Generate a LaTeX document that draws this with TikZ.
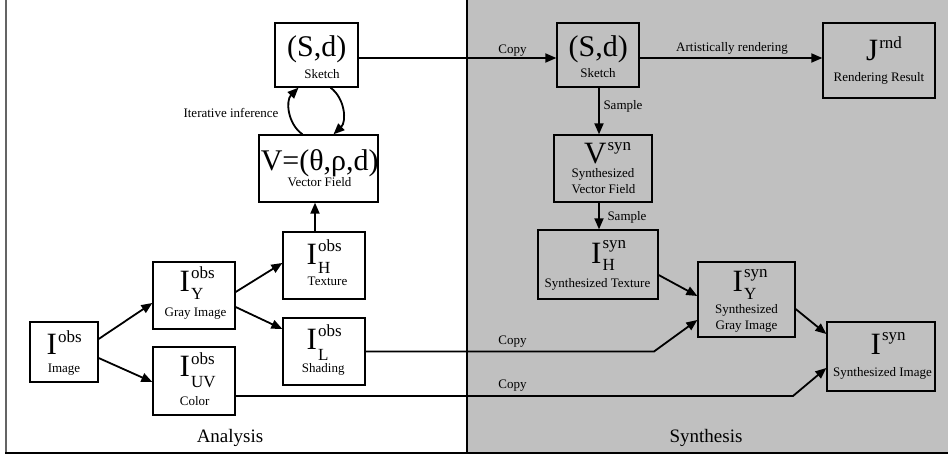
\documentclass[tikz,border=0pt]{standalone}
\usepackage{fontspec}
\setmainfont{Liberation Serif}
\usetikzlibrary{arrows.meta,calc}
\definecolor{panelgray}{RGB}{192,192,192}
\definecolor{framegray}{RGB}{100,100,100}
% base letter, superscript, subscript, raise, lower
\newcommand{\SymSS}[5]{\fontsize{31}{31}\selectfont #1\kern1pt\rlap{\raisebox{#4pt}{\fontsize{17}{17}\selectfont #2}}\raisebox{-#5pt}{\fontsize{17}{17}\selectfont #3}}
% base letter, superscript, raise
\newcommand{\SymS}[3]{\fontsize{31}{31}\selectfont #1\kern1pt\raisebox{#3pt}{\fontsize{17}{17}\selectfont #2}}
\begin{document}
\begin{tikzpicture}[x=1pt,y=-1pt,
  box/.style={draw, line width=1.3pt, inner sep=0pt},
  gbox/.style={box, fill=panelgray},
  sym/.style={anchor=base west, inner sep=0pt},
  bigtxt/.style={anchor=base, inner sep=0pt, font=\fontsize{30}{30}\selectfont},
  captxt/.style={anchor=base, inner sep=0pt, font=\fontsize{13}{15}\selectfont},
  arr/.style={line width=1.8pt, -{Triangle[length=11pt,width=9pt]}},
  lab/.style={font=\fontsize{13}{15}\selectfont, inner sep=0pt},
  title/.style={font=\fontsize{19}{21}\selectfont, inner sep=0pt}]
\useasboundingbox (0,0) rectangle (948,454);
\fill[panelgray] (467,0) rectangle (948,452);
\draw[line width=1.5pt, framegray] (6,0) -- (6,453);
\draw[line width=1.5pt] (467,0) -- (467,453);
\draw[line width=2pt] (5,453) -- (948,453);

% ---------- analysis boxes ----------
\node[box, minimum width=83pt, minimum height=64pt] (skL) at (316.5,55) {};
\node[bigtxt] (skLt) at (316.7,57) {(S,d)};
\node[captxt] (skLc) at (322,79) {Sketch};

\node[box, minimum width=119pt, minimum height=67pt] (vf) at (318.5,168.5) {};
\node[bigtxt] (vft) at (319.7,171) {V=(θ,ρ,d)};
\node[captxt] (vfc) at (319.5,187) {Vector Field};

\node[box, minimum width=82pt, minimum height=67pt] (ih) at (324,265.5) {};
\node[sym] (iht) at (306.5,265) {\SymSS{I}{obs}{H}{13}{9}};
\node[captxt] (ihc) at (327.5,286) {Texture};

\node[box, minimum width=82pt, minimum height=67pt] (iy) at (194,295.5) {};
\node[sym] (iyt) at (179.5,292) {\SymSS{I}{obs}{Y}{13}{8}};
\node[captxt] (iyc) at (195.5,317) {Gray Image};

\node[box, minimum width=82pt, minimum height=67pt] (il) at (324,351.5) {};
\node[sym] (ilt) at (306.5,349) {\SymSS{I}{obs}{L}{13}{11}};
\node[captxt] (ilc) at (323.3,373) {Shading};

\node[box, minimum width=68pt, minimum height=60pt] (io) at (64,352) {};
\node[sym] (iot) at (46.5,355) {\SymS{I}{obs}{13}};
\node[captxt] (ioc) at (64,372) {Image};

\node[box, minimum width=82pt, minimum height=68pt] (iuv) at (194,381) {};
\node[sym] (iuvt) at (179.5,377) {\SymSS{I}{obs}{UV}{13}{11}};
\node[captxt] (iuvc) at (194.7,405) {Color};

% ---------- synthesis boxes ----------
\node[gbox, minimum width=82pt, minimum height=64pt] (skR) at (598,55) {};
\node[bigtxt] (skRt) at (598.3,57) {(S,d)};
\node[captxt] (skRc) at (598,77.5) {Sketch};

\node[gbox, minimum width=112pt, minimum height=75pt] (jr) at (879,60.5) {};
\node[sym] (jrt) at (866,61) {\SymS{J}{rnd}{12}};
\node[captxt] (jrc) at (879,81.5) {Rendering Result};

\node[gbox, minimum width=98pt, minimum height=67pt] (vs) at (603,168.5) {};
\node[sym] (vst) at (584,163.5) {\SymS{V}{syn}{13}};
\node[captxt] (vsc1) at (603,178) {Synthesized};
\node[captxt] (vsc2) at (603.5,194) {Vector Field};

\node[gbox, minimum width=120pt, minimum height=69pt] (ihs) at (598,264.5) {};
\node[sym] (ihst) at (591,263.5) {\SymSS{I}{syn}{H}{15}{7}};
\node[captxt] (ihsc) at (597.5,287.5) {Synthesized Texture};

\node[gbox, minimum width=97pt, minimum height=75pt] (iys) at (746.5,299.5) {};
\node[sym] (iyst) at (732.5,292) {\SymSS{I}{syn}{Y}{14}{8}};
\node[captxt] (iysc1) at (746.5,314) {Synthesized};
\node[captxt] (iysc2) at (746.5,330) {Gray Image};

\node[gbox, minimum width=108pt, minimum height=69pt] (is) at (881,356.5) {};
\node[sym] (ist) at (870.5,355) {\SymS{I}{syn}{14}};
\node[captxt] (isc) at (882.5,376) {Synthesized Image};

% ---------- connectors ----------
\draw[arr] ([yshift=-3pt]skL.east) -- ([yshift=-3pt]skR.west);
\draw[arr] ([yshift=-3pt]skR.east) -- ([yshift=2.5pt]jr.west);
\draw[arr] ([xshift=1pt]skR.south) -- ([xshift=1pt]skR.south |- vs.north);
\draw[arr] ([xshift=-4pt]vs.south) -- ([xshift=-4pt]vs.south |- ihs.north);
\draw[arr] ([xshift=-9pt]ih.north) -- ([xshift=-9pt]ih.north |- vf.south);
\draw[arr] ([xshift=-16pt]vf.north) to[bend left=50] ([xshift=-18pt]skL.south);
\draw[arr] ([xshift=14pt]skL.south) to[bend left=50] ([xshift=15pt]vf.north);
\draw[arr] ([yshift=13pt]io.east) -- ([yshift=-7.5pt]iy.west);
\draw[arr] ([yshift=-6pt]io.east) -- ([yshift=-1pt]iuv.west);
\draw[arr] ([yshift=3.5pt]iy.east) -- ([yshift=2.5pt]ih.west);
\draw[arr] ([yshift=-11.5pt]iy.east) -- ([yshift=22.5pt]il.west);
\coordinate (k1) at (654,351.5);
\coordinate (k2) at (793,396);
\draw[arr] (il.east) -- (k1) -- ([yshift=-20.5pt]iys.west);
\draw[arr] ([yshift=-15pt]iuv.east) -- (k2) -- ([yshift=-11.5pt]is.west);
\draw[arr] ([yshift=-10.5pt]ihs.east) -- ([yshift=3.5pt]iys.west);
\draw[arr] ([yshift=-9.5pt]iys.east) -- ([yshift=22.5pt]is.west);

% ---------- labels ----------
\node[lab] (lit) at (231,113) {Iterative inference};
\node[lab] (lc1) at (512.5,51) {Copy};
\node[lab] (lar) at (732,48) {Artistically rendering};
\node[lab] (ls1) at (623,106) {Sample};
\node[lab] (ls2) at (627,217) {Sample};
\node[lab] (lc2) at (512.5,342) {Copy};
\node[lab] (lc3) at (512.5,386) {Copy};
\node[title] (tan) at (230,438) {Analysis};
\node[title] (tsy) at (706,438) {Synthesis};
\end{tikzpicture}
\end{document}
